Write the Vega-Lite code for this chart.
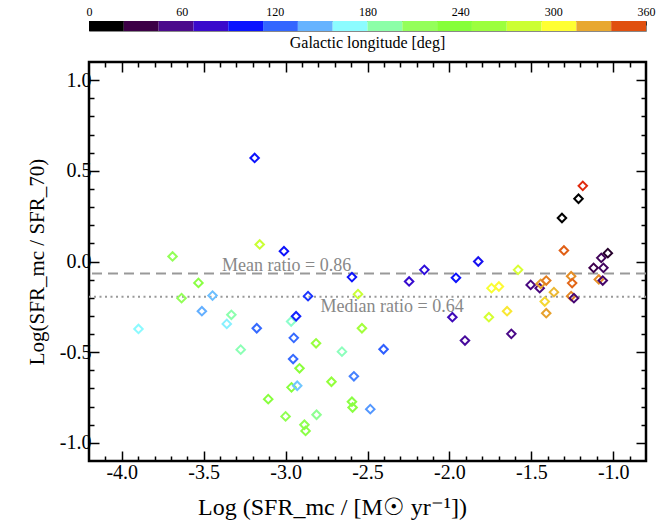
{
  "$schema": "https://vega.github.io/schema/vega-lite/v6.json",
  "padding": {"left": 25, "top": 4, "right": 0, "bottom": 0},
  "config": {
    "font": "Liberation Serif, Times New Roman, serif",
    "concat": {"spacing": 8},
    "axis": {"labelColor": "black", "titleColor": "black", "tickColor": "black", "grid": false, "domain": false, "titleFontWeight": "normal", "zindex": 1}
  },
  "datasets": {
    "clouds": [
      {"sfr": -3.898, "logratio": -0.372, "glon": 168},
      {"sfr": -3.690, "logratio": 0.028, "glon": 215},
      {"sfr": -3.635, "logratio": -0.202, "glon": 215},
      {"sfr": -3.532, "logratio": -0.118, "glon": 230},
      {"sfr": -3.511, "logratio": -0.274, "glon": 145},
      {"sfr": -3.446, "logratio": -0.188, "glon": 150},
      {"sfr": -3.359, "logratio": -0.344, "glon": 165},
      {"sfr": -3.331, "logratio": -0.294, "glon": 190},
      {"sfr": -3.274, "logratio": -0.486, "glon": 188},
      {"sfr": -3.189, "logratio": 0.571, "glon": 100},
      {"sfr": -3.176, "logratio": -0.368, "glon": 125},
      {"sfr": -3.158, "logratio": 0.094, "glon": 280},
      {"sfr": -3.106, "logratio": -0.759, "glon": 235},
      {"sfr": -3.010, "logratio": 0.057, "glon": 100},
      {"sfr": -3.000, "logratio": -0.854, "glon": 220},
      {"sfr": -2.966, "logratio": -0.331, "glon": 182},
      {"sfr": -2.964, "logratio": -0.694, "glon": 235},
      {"sfr": -2.954, "logratio": -0.538, "glon": 125},
      {"sfr": -2.950, "logratio": -0.421, "glon": 125},
      {"sfr": -2.936, "logratio": -0.302, "glon": 105},
      {"sfr": -2.929, "logratio": -0.685, "glon": 152},
      {"sfr": -2.915, "logratio": -0.589, "glon": 240},
      {"sfr": -2.885, "logratio": -0.900, "glon": 220},
      {"sfr": -2.878, "logratio": -0.934, "glon": 228},
      {"sfr": -2.863, "logratio": -0.191, "glon": 110},
      {"sfr": -2.814, "logratio": -0.451, "glon": 255},
      {"sfr": -2.811, "logratio": -0.845, "glon": 198},
      {"sfr": -2.720, "logratio": -0.663, "glon": 250},
      {"sfr": -2.656, "logratio": -0.497, "glon": 186},
      {"sfr": -2.595, "logratio": -0.086, "glon": 100},
      {"sfr": -2.595, "logratio": -0.773, "glon": 230},
      {"sfr": -2.591, "logratio": -0.805, "glon": 230},
      {"sfr": -2.583, "logratio": -0.633, "glon": 132},
      {"sfr": -2.558, "logratio": -0.180, "glon": 280},
      {"sfr": -2.534, "logratio": -0.368, "glon": 262},
      {"sfr": -2.483, "logratio": -0.814, "glon": 138},
      {"sfr": -2.402, "logratio": -0.484, "glon": 122},
      {"sfr": -2.246, "logratio": -0.110, "glon": 80},
      {"sfr": -2.153, "logratio": -0.046, "glon": 85},
      {"sfr": -1.982, "logratio": -0.307, "glon": 72},
      {"sfr": -1.960, "logratio": -0.090, "glon": 100},
      {"sfr": -1.905, "logratio": -0.436, "glon": 62},
      {"sfr": -1.824, "logratio": 0.000, "glon": 95},
      {"sfr": -1.759, "logratio": -0.307, "glon": 285},
      {"sfr": -1.743, "logratio": -0.147, "glon": 300},
      {"sfr": -1.698, "logratio": -0.138, "glon": 305},
      {"sfr": -1.648, "logratio": -0.274, "glon": 310},
      {"sfr": -1.622, "logratio": -0.399, "glon": 55},
      {"sfr": -1.581, "logratio": -0.046, "glon": 287},
      {"sfr": -1.504, "logratio": -0.129, "glon": 52},
      {"sfr": -1.449, "logratio": -0.147, "glon": 52},
      {"sfr": -1.443, "logratio": -0.123, "glon": 328},
      {"sfr": -1.418, "logratio": -0.221, "glon": 314},
      {"sfr": -1.409, "logratio": -0.105, "glon": 337},
      {"sfr": -1.409, "logratio": -0.285, "glon": 328},
      {"sfr": -1.362, "logratio": -0.169, "glon": 322},
      {"sfr": -1.313, "logratio": 0.240, "glon": 5},
      {"sfr": -1.301, "logratio": 0.061, "glon": 345},
      {"sfr": -1.257, "logratio": -0.081, "glon": 333},
      {"sfr": -1.251, "logratio": -0.119, "glon": 343},
      {"sfr": -1.257, "logratio": -0.191, "glon": 335},
      {"sfr": -1.240, "logratio": -0.202, "glon": 48},
      {"sfr": -1.212, "logratio": 0.346, "glon": 5},
      {"sfr": -1.186, "logratio": 0.417, "glon": 358},
      {"sfr": -1.120, "logratio": -0.035, "glon": 36},
      {"sfr": -1.073, "logratio": 0.020, "glon": 40},
      {"sfr": -1.060, "logratio": -0.035, "glon": 42},
      {"sfr": -1.088, "logratio": -0.099, "glon": 333},
      {"sfr": -1.064, "logratio": -0.105, "glon": 45},
      {"sfr": -1.033, "logratio": 0.046, "glon": 25}
    ],
    "colorbar": [
      {"lo": 0, "hi": 22.5}, {"lo": 22.5, "hi": 45}, {"lo": 45, "hi": 67.5}, {"lo": 67.5, "hi": 90},
      {"lo": 90, "hi": 112.5}, {"lo": 112.5, "hi": 135}, {"lo": 135, "hi": 157.5}, {"lo": 157.5, "hi": 180},
      {"lo": 180, "hi": 202.5}, {"lo": 202.5, "hi": 225}, {"lo": 225, "hi": 247.5}, {"lo": 247.5, "hi": 270},
      {"lo": 270, "hi": 292.5}, {"lo": 292.5, "hi": 315}, {"lo": 315, "hi": 337.5}, {"lo": 337.5, "hi": 360}
    ],
    "stats": [
      {"stat": "mean", "ratio": 0.86},
      {"stat": "median", "ratio": 0.64}
    ]
  },
  "vconcat": [
    {
      "width": 557,
      "height": 10,
      "data": {"name": "colorbar"},
      "view": {"stroke": "#888", "strokeWidth": 1},
      "title": {"text": "Galactic longitude [deg]", "orient": "bottom", "fontSize": 16, "fontWeight": "normal", "color": "black", "offset": 4},
      "mark": {"type": "rect"},
      "encoding": {
        "x": {"field": "lo", "type": "quantitative", "scale": {"domain": [0, 360], "nice": false, "zero": false},
              "axis": {"orient": "top", "values": [0, 60, 120, 180, 240, 300, 360], "title": null, "labelFontSize": 12, "tickSize": -4, "tickColor": "#333", "labelPadding": 7, "labelFlush": false}},
        "x2": {"field": "hi"},
        "color": {"field": "lo", "type": "quantitative", "legend": null,
                  "scale": {"type": "threshold", "domain": [22.5, 45, 67.5, 90, 112.5, 135, 157.5, 180, 202.5, 225, 247.5, 270, 292.5, 315, 337.5],
                            "range": ["#000000", "#3c0046", "#4b0a8c", "#3a0acc", "#0a14ff", "#3366ff", "#66b3ff", "#8cfcff", "#8cffa8", "#94ff5a", "#86ff3a", "#9cff3e", "#ccff33", "#ffff33", "#e8a830", "#e0500f"]}}
      }
    },
    {
      "width": 557,
      "height": 399,
      "view": {"stroke": "black", "strokeWidth": 2.5},
      "layer": [
        {
          "data": {"name": "stats"},
          "transform": [{"filter": "datum.stat == 'mean'"}],
          "mark": {"type": "rule", "color": "#999999", "strokeWidth": 2, "strokeDash": [10, 6]},
          "encoding": {"y": {"datum": -0.0655, "type": "quantitative", "axis": null}}
        },
        {
          "data": {"name": "stats"},
          "transform": [{"filter": "datum.stat == 'median'"}],
          "mark": {"type": "rule", "color": "#999999", "strokeWidth": 2, "strokeDash": [2, 3.5]},
          "encoding": {"y": {"datum": -0.1938, "type": "quantitative", "axis": null}}
        },
        {
          "data": {"name": "clouds"},
          "mark": {"type": "point", "shape": "diamond", "filled": false, "size": 72, "strokeWidth": 2, "opacity": 1},
          "encoding": {
            "x": {"field": "sfr", "type": "quantitative", "scale": {"domain": [-4.2, -0.8], "nice": false, "zero": false},
                  "axis": {"orient": "bottom", "title": "Log (SFR_mc / [M☉ yr⁻¹])", "titleFontSize": 24, "titlePadding": 8, "titleX": 243,
                           "values": [-4.1, -4.0, -3.9, -3.8, -3.7, -3.6, -3.5, -3.4, -3.3, -3.2, -3.1, -3.0, -2.9, -2.8, -2.7, -2.6, -2.5, -2.4, -2.3, -2.2, -2.1, -2.0, -1.9, -1.8, -1.7, -1.6, -1.5, -1.4, -1.3, -1.2, -1.1, -1.0, -0.9],
                           "labelExpr": "abs(datum.value*2 - round(datum.value*2)) < 0.01 ? (datum.value < 0 ? '-' + format(-datum.value, '.1f') : format(datum.value, '.1f')) : ''",
                           "labelFontSize": 20, "labelPadding": 11, "labelFlush": false, "labelOverlap": false,
                           "tickSize": {"condition": {"test": "abs(datum.value*2 - round(datum.value*2)) < 0.01", "value": -10}, "value": -5},
                           "tickWidth": 1.5}},
            "y": {"field": "logratio", "type": "quantitative", "scale": {"domain": [-1.1, 1.1], "nice": false, "zero": false},
                  "axis": {"orient": "left", "title": "Log(SFR_mc / SFR_70)", "titleFontSize": 21, "titlePadding": 12,
                           "values": [-1.0, -0.9, -0.8, -0.7, -0.6, -0.5, -0.4, -0.3, -0.2, -0.1, 0, 0.1, 0.2, 0.3, 0.4, 0.5, 0.6, 0.7, 0.8, 0.9, 1.0],
                           "labelExpr": "abs(datum.value*2 - round(datum.value*2)) < 0.01 ? (datum.value < -0.01 ? '-' + format(-datum.value, '.1f') : format(abs(datum.value), '.1f')) : ''",
                           "labelFontSize": 20, "labelPadding": 8, "labelFlush": false, "labelOverlap": false,
                           "tickSize": {"condition": {"test": "abs(datum.value*2 - round(datum.value*2)) < 0.01", "value": -10}, "value": -5},
                           "tickWidth": 1.5}},
            "color": {"field": "glon", "type": "quantitative", "legend": null,
                      "scale": {"type": "linear", "clamp": true, "interpolate": "rgb",
                                "domain": [11.25, 33.75, 56.25, 78.75, 101.25, 123.75, 146.25, 168.75, 191.25, 213.75, 236.25, 258.75, 281.25, 303.75, 326.25, 348.75, 360],
                                "range": ["#000000", "#3c0046", "#4b0a8c", "#3a0acc", "#0a14ff", "#3366ff", "#66b3ff", "#8cfcff", "#8cffa8", "#94ff5a", "#86ff3a", "#9cff3e", "#ccff33", "#ffff33", "#e8a830", "#e0500f", "#e0200c"]}}
          }
        },
        {
          "data": {"name": "stats"},
          "transform": [{"filter": "datum.stat == 'mean'"}],
          "mark": {"type": "text", "fontSize": 18, "color": "#888888", "align": "center", "baseline": "alphabetic", "font": "Liberation Serif, Times New Roman, serif"},
          "encoding": {
            "x": {"datum": -2.994, "type": "quantitative",
                  "axis": {"orient": "top", "title": null, "labels": false,
                           "values": [-4.1, -4.0, -3.9, -3.8, -3.7, -3.6, -3.5, -3.4, -3.3, -3.2, -3.1, -3.0, -2.9, -2.8, -2.7, -2.6, -2.5, -2.4, -2.3, -2.2, -2.1, -2.0, -1.9, -1.8, -1.7, -1.6, -1.5, -1.4, -1.3, -1.2, -1.1, -1.0, -0.9],
                           "tickSize": {"condition": {"test": "abs(datum.value*2 - round(datum.value*2)) < 0.01", "value": -10}, "value": -5},
                           "tickWidth": 1.5}},
            "y": {"datum": -0.051, "type": "quantitative",
                  "axis": {"orient": "right", "title": null, "labels": false,
                           "values": [-1.0, -0.9, -0.8, -0.7, -0.6, -0.5, -0.4, -0.3, -0.2, -0.1, 0, 0.1, 0.2, 0.3, 0.4, 0.5, 0.6, 0.7, 0.8, 0.9, 1.0],
                           "tickSize": {"condition": {"test": "abs(datum.value*2 - round(datum.value*2)) < 0.01", "value": -10}, "value": -5},
                           "tickWidth": 1.5}},
            "text": {"value": "Mean ratio = 0.86"}
          }
        },
        {
          "data": {"name": "stats"},
          "transform": [{"filter": "datum.stat == 'median'"}],
          "mark": {"type": "text", "fontSize": 18, "color": "#888888", "align": "center", "baseline": "alphabetic", "font": "Liberation Serif, Times New Roman, serif"},
          "encoding": {
            "x": {"datum": -2.35, "type": "quantitative", "axis": null},
            "y": {"datum": -0.278, "type": "quantitative", "axis": null},
            "text": {"value": "Median ratio = 0.64"}
          }
        }
      ],
      "resolve": {"axis": {"x": "independent", "y": "independent"}}
    }
  ],
  "resolve": {"scale": {"color": "independent"}}
}
